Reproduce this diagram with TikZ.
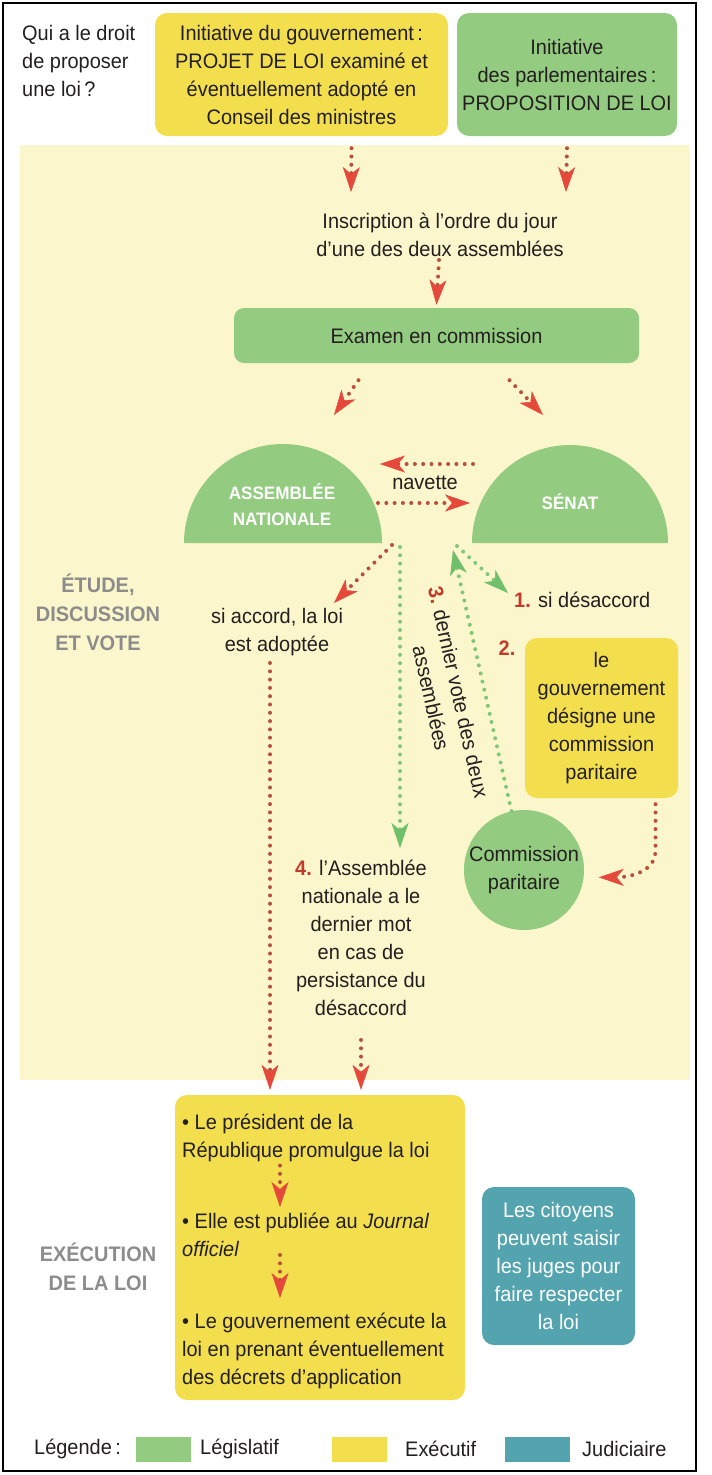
\documentclass[tikz,border=0pt]{standalone}
\usepackage{fontspec}
\setmainfont[FakeStretch=0.95]{Liberation Sans}
\usetikzlibrary{arrows.meta,positioning,calc}
\usepackage{xcolor}
\definecolor{legis}{HTML}{93CB80}
\definecolor{execu}{HTML}{F3DF4E}
\definecolor{judic}{HTML}{54A4AF}
\definecolor{pale}{HTML}{FBF6CB}
\definecolor{ink}{HTML}{231F20}
\definecolor{dotred}{HTML}{B9503F}
\definecolor{tipred}{HTML}{E5493B}
\definecolor{dotgreen}{HTML}{80C77A}
\definecolor{tipgreen}{HTML}{70BF6A}
\definecolor{greytxt}{HTML}{8C8C8C}
\definecolor{numred}{HTML}{C43A2A}
\newcommand{\Rnum}[1]{\textcolor{numred}{\textbf{#1}}}

\begin{document}
\begin{tikzpicture}[x=1pt,y=1pt,
  every node/.style={font=\fontsize{21}{28}\selectfont,text=ink,align=center,inner sep=0pt},
  box/.style={rounded corners=12pt},
  side/.style={font=\fontsize{21}{29}\selectfont\bfseries,text=greytxt},
  redarr/.style={draw=dotred,line width=4pt,line cap=round,dash pattern=on 0pt off 8.3pt,
    -{Stealth[length=25pt,width=17pt,inset=7pt,color=tipred,fill=tipred,line width=0.5pt]}},
  greenarr/.style={draw=dotgreen,line width=4pt,line cap=round,dash pattern=on 0pt off 8.3pt,
    -{Stealth[length=25pt,width=17pt,inset=7pt,color=tipgreen,fill=tipgreen,line width=0.5pt]}}]
\useasboundingbox (0,0) rectangle (712,-1475);
% \draw[help lines,step=50] (0,0) grid (712,-1475);
\fill[pale] (20,-145) rectangle (690,-1080);
%
\node (quest) [anchor=west,align=left] at (22,-61) {Qui a le droit\\de proposer\\une loi\,?};
\node (gouv) [box,fill=execu,minimum width=293pt,minimum height=123pt] at (301.5,-74.5)
  {Initiative du gouvernement\,:\\PROJET DE LOI examiné et\\éventuellement adopté en\\Conseil des ministres};
\node (parl) [box,fill=legis,minimum width=220pt,minimum height=123pt] at (567,-74.5)
  {Initiative\\des parlementaires\,:\\PROPOSITION DE LOI};
\node (inscr) at (440,-235) {Inscription à l’ordre du jour\\d’une des deux assemblées};
\node (exam) [box,fill=legis,rounded corners=10pt,minimum width=405pt,minimum height=55pt] at (436.5,-335.5)
  {Examen en commission};
%
\draw[redarr] ([xshift=50pt,yshift=-12pt]gouv.south) -- ($(inscr)+(-89,43)$);
\draw[redarr] ([yshift=-12pt]parl.south) -- ($(inscr)+(126,43)$);
\draw[redarr] ($(inscr)+(-1,-25)$) -- ([yshift=3pt]exam.north);

% les deux assemblees
\coordinate (anC) at (283,-543);
\coordinate (seC) at (570,-543);
\fill[legis] (anC) ++(-99,0) arc[start angle=180,end angle=0,radius=99] -- cycle;
\fill[legis] (seC) ++(-98,0) arc[start angle=180,end angle=0,radius=98] -- cycle;
\node (an) [font=\fontsize{18}{26}\selectfont\bfseries,text=white] at (282,-505) {ASSEMBLÉE\\NATIONALE};
\node (senat) [font=\fontsize{18}{26}\selectfont\bfseries,text=white] at (570,-502) {SÉNAT};
\node (nav) at (425,-483) {navette};
%
\draw[redarr] ($(exam.south)+(-78,-17)$) -- ($(anC)+(51,128)$);
\draw[redarr] ($(exam.south)+(73,-17)$) -- ($(seC)+(-27,128)$);
\draw[redarr] ($(seC)+(-97,79)$) -- ($(anC)+(97,79)$);
\draw[redarr] ($(anC)+(95,40)$) -- ($(seC)+(-100,40)$);

\node (etude) [side] at (98,-612) {ÉTUDE,\\DISCUSSION\\ET VOTE};
\node (accord) at (277,-632) {si accord, la loi\\est adoptée};
\node (desacc) [anchor=west] at (514,-600) {\Rnum{1.} si désaccord};
\node (two) at (507,-648) {\Rnum{2.}};
\node (cmp) [box,fill=execu,minimum width=153pt,minimum height=160pt] at (601.5,-718)
  {le\\gouvernement\\désigne une\\commission\\paritaire};
\node (cpar) [circle,fill=legis,minimum size=120pt] at (524,-870) {Commission\\paritaire};
\node (vote) [rotate=-77.5] at (445,-695) {\Rnum{3.} dernier vote des deux\\assemblées};
\node (dernier) at (361,-938)
  {\Rnum{4.} l’Assemblée\\nationale a le\\dernier mot\\en cas de\\persistance du\\désaccord};
%
\draw[redarr] ($(anC)+(109,-2)$) -- ($(accord)+(57,29)$);
\draw[greenarr] ($(anC)+(117,-4)$) -- ($(dernier)+(39,90)$);
\draw[greenarr] ($(seC)+(-113,-3)$) -- ($(desacc.west)+(-6,7)$);
\draw[greenarr] (cpar.102) -- ($(seC)+(-117,-7)$);
\draw[redarr] ($(cmp.south)+(54,-6)$) -- ++(0,-46) to[out=-90,in=0] ($(cpar.-7)+(15,0)$);

% execution
\node (exec) [box,fill=execu,minimum width=290pt,minimum height=305pt] at (320,-1247.5) {};
\node (pres) [anchor=west,align=left] at (182,-1137.5) {• Le président de la\\République promulgue la loi};
\node (jo) [anchor=west,align=left] at (182,-1235) {• Elle est publiée au \textit{Journal}\\\textit{officiel}};
\node (decr) [anchor=west,align=left] at (182,-1351)
  {• Le gouvernement exécute la\\loi en prenant éventuellement\\des décrets d’application};
\node (juge) [box,fill=judic,text=white,minimum width=153pt,minimum height=158pt] at (558.5,-1266)
  {Les citoyens\\peuvent saisir\\les juges pour\\faire respecter\\la loi};
\node (exlab) [side] at (98,-1267) {EXÉCUTION\\DE LA LOI};
%
\draw[redarr] ($(accord)+(-7,-31)$) -- ($(exec.north)+(-50,5)$);
\draw[redarr] ($(dernier)+(0,-102)$) -- ($(exec.north)+(41,5)$);
\draw[redarr] ($(pres.west)+(98,-28)$) -- ($(jo.west)+(98,28)$);
\draw[redarr] ($(jo.west)+(98,-20)$) -- ($(decr.west)+(98,53)$);

% legende
\node (leg) [anchor=west] at (34,-1449) {Légende\,:};
\node (sw1) [fill=legis,minimum width=55pt,minimum height=25pt] at (163.5,-1449) {};
\node (l1) [anchor=west] at (200,-1449) {Législatif};
\node (sw2) [fill=execu,minimum width=55pt,minimum height=25pt] at (359,-1449) {};
\node (l2) [anchor=west] at (405,-1449) {Exécutif};
\node (sw3) [fill=judic,minimum width=65pt,minimum height=25pt] at (537.5,-1449) {};
\node (l3) [anchor=west] at (582,-1449) {Judiciaire};
\draw[line width=1.6pt] (3,-3) rectangle (696,-1471);
\end{tikzpicture}
\end{document}
